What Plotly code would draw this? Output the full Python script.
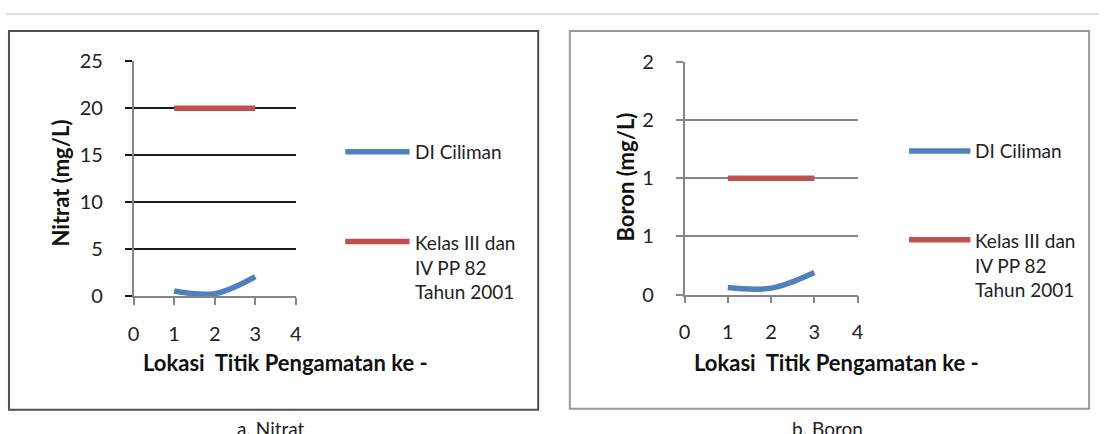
import plotly.graph_objects as go

W, H = 1105, 434

# ---- data ----
lokasi = [1, 2, 3]
nitrat_ciliman = [0.57, 0.3, 2.1]
nitrat_baku = [20, 20, 20]
boron_ciliman = [0.06, 0.055, 0.19]
boron_baku = [1, 1, 1]

x_ticks = [0, 1, 2, 3, 4]
nitrat_ticks = [0, 5, 10, 15, 20, 25]
boron_tickvals = [0, 0.5, 1, 1.5, 2]
boron_ticktext = ["0", "1", "1", "2", "2"]

series_names = ["DI Ciliman", "Kelas III dan<br>IV PP 82<br>Tahun 2001"]
captions = ["a. Nitrat", "b. Boron"]

BLUE = "#4F81BD"
RED = "#C0504D"
AXIS_GRAY = "#868686"
FONT = "Lato, 'Open Sans', sans-serif"


def px(x):
    return x / W


def py(y):
    return 1 - y / H


fig = go.Figure()

fig.add_trace(go.Scatter(x=lokasi, y=nitrat_ciliman, mode="lines", name="DI Ciliman",
                         line=dict(color=BLUE, width=5.5, shape="spline"),
                         xaxis="x", yaxis="y", showlegend=False))
fig.add_trace(go.Scatter(x=lokasi, y=nitrat_baku, mode="lines", name="Kelas III dan IV PP 82 Tahun 2001",
                         line=dict(color=RED, width=5.5),
                         xaxis="x", yaxis="y", showlegend=False))
fig.add_trace(go.Scatter(x=lokasi, y=boron_ciliman, mode="lines", name="DI Ciliman",
                         line=dict(color=BLUE, width=5.5, shape="spline"),
                         xaxis="x2", yaxis="y2", showlegend=False))
fig.add_trace(go.Scatter(x=lokasi, y=boron_baku, mode="lines", name="Kelas III dan IV PP 82 Tahun 2001",
                         line=dict(color=RED, width=5.5),
                         xaxis="x2", yaxis="y2", showlegend=False))

tickfont = dict(family=FONT, size=20, color="#222222")

xcommon = dict(range=[0, 4], tickvals=x_ticks, showgrid=False, zeroline=False,
               showline=True, linecolor=AXIS_GRAY, linewidth=1.5,
               ticks="outside", ticklen=7, tickcolor=AXIS_GRAY, tickwidth=1.5,
               ticklabelstandoff=12, tickfont=tickfont, fixedrange=True)

fig.update_layout(
    width=W, height=H,
    margin=dict(l=0, r=0, t=0, b=0),
    paper_bgcolor="white", plot_bgcolor="white",
    showlegend=False,
    xaxis=dict(domain=[px(129), px(293)], anchor="y", **xcommon),
    yaxis=dict(domain=[py(300), py(51)], anchor="x", range=[0, 25], tickvals=nitrat_ticks,
               showgrid=True, gridcolor="#1a1a1a", gridwidth=1.5, zeroline=False,
               showline=True, linecolor=AXIS_GRAY, linewidth=1.5,
               ticks="outside", ticklen=7, tickcolor="#1a1a1a", tickwidth=1.5,
               ticklabelstandoff=18, tickfont=tickfont, fixedrange=True),
    xaxis2=dict(domain=[px(686), px(861)], anchor="y2", **xcommon),
    yaxis2=dict(domain=[py(298), py(52)], anchor="x2", range=[0, 2],
                tickvals=boron_tickvals, ticktext=boron_ticktext,
                showgrid=True, gridcolor=AXIS_GRAY, gridwidth=1.5, zeroline=False,
                showline=True, linecolor=AXIS_GRAY, linewidth=1.5,
                ticks="outside", ticklen=7, tickcolor=AXIS_GRAY, tickwidth=1.5,
                ticklabelstandoff=18, tickfont=tickfont, fixedrange=True),
)

shapes = []
# top separator line
shapes.append(dict(type="line", xref="paper", yref="paper", x0=0, x1=1, y0=py(1), y1=py(1),
                   line=dict(color="#dedede", width=2)))
# panel borders
shapes.append(dict(type="rect", xref="paper", yref="paper", x0=px(3), x1=px(538), y0=py(420), y1=py(19),
                   line=dict(color="#505050", width=2)))
shapes.append(dict(type="rect", xref="paper", yref="paper", x0=px(570), x1=px(1095), y0=py(419), y1=py(19),
                   line=dict(color="#9a9a9a", width=2)))

annotations = []
legend_font = dict(family=FONT, size=19, color="#222222")
bold_font = dict(family=FONT, size=22, color="#111111")

panels = [
    dict(lx0=343, lx1=408, tx=411, yb=147, yr=242, ytitle="<b>Nitrat (mg/L)</b>", ytx=55, yty=180,
         xtx=283, cap_x=268),
    dict(lx0=913, lx1=975, tx=978, yb=146, yr=240, ytitle="<b>Boron (mg/L)</b>", ytx=626, yty=174,
         xtx=840, cap_x=831),
]
for i, p in enumerate(panels):
    # legend symbols
    shapes.append(dict(type="line", xref="paper", yref="paper", x0=px(p["lx0"]), x1=px(p["lx1"]),
                       y0=py(p["yb"]), y1=py(p["yb"]), line=dict(color=BLUE, width=5.5)))
    shapes.append(dict(type="line", xref="paper", yref="paper", x0=px(p["lx0"]), x1=px(p["lx1"]),
                       y0=py(p["yr"]), y1=py(p["yr"]), line=dict(color=RED, width=5.5)))
    annotations.append(dict(text=series_names[0], xref="paper", yref="paper", x=px(p["tx"]), y=py(p["yb"]),
                            xanchor="left", yanchor="middle", showarrow=False, font=legend_font))
    annotations.append(dict(text=series_names[1], xref="paper", yref="paper", x=px(p["tx"]), y=py(p["yr"] - 13),
                            xanchor="left", yanchor="top", align="left", showarrow=False, font=legend_font))
    # axis titles
    annotations.append(dict(text=p["ytitle"], xref="paper", yref="paper", x=px(p["ytx"]), y=py(p["yty"]),
                            xanchor="center", yanchor="middle", textangle=-90, showarrow=False, font=bold_font))
    annotations.append(dict(text="<b>Lokasi  Titik Pengamatan ke -</b>", xref="paper", yref="paper",
                            x=px(p["xtx"]), y=py(370), xanchor="center", yanchor="middle",
                            showarrow=False, font=bold_font))
    # captions (cut off at the bottom edge, as in the source page)
    annotations.append(dict(text=captions[i], xref="paper", yref="paper", x=px(p["cap_x"]), y=py(426),
                            xanchor="center", yanchor="top", showarrow=False,
                            font=dict(family=FONT, size=19, color="#222222")))

fig.update_layout(shapes=shapes, annotations=annotations)

fig.write_html("out.html", config=dict(displayModeBar=False))
